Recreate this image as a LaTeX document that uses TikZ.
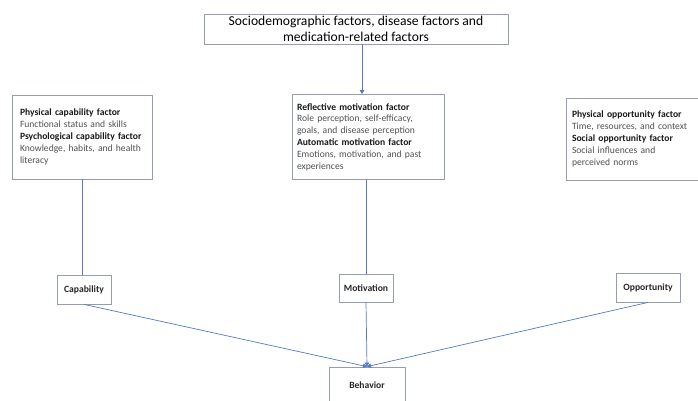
\documentclass[tikz,border=0pt]{standalone}
\usepackage{fontspec}
\setmainfont{Carlito}
\usetikzlibrary{arrows.meta, positioning, calc}
\definecolor{lineblue}{RGB}{84,122,196}
\definecolor{boxgray}{RGB}{150,158,172}
\definecolor{txtgray}{RGB}{80,80,80}

\begin{document}
\begin{tikzpicture}[x=1pt, y=-1pt,
    factorbox/.style={draw=boxgray, line width=0.8pt, align=left, text=txtgray,
                      font=\fontsize{9.6}{11.8}\selectfont, inner ysep=0pt},
    combbox/.style={draw=boxgray, line width=0.8pt, inner sep=0pt,
                    font=\fontsize{9.6}{11}\selectfont\bfseries, text=black!85},
    conn/.style={draw=lineblue, line width=0.7pt},
    arr/.style={conn, -{Triangle[width=4.5pt, length=4pt]}}
    ]
    \useasboundingbox (0,0) rectangle (698,401);

    % top box
    \node[draw=boxgray, line width=0.8pt, align=center, inner sep=0pt,
          minimum width=304pt, minimum height=30pt,
          font=\fontsize{13.6}{16}\selectfont] (top) at (356,29)
        {Sociodemographic factors, disease factors and\\medication-related factors};

    % factor boxes
    \node[factorbox, inner xsep=8pt, text width=124pt, minimum height=84pt] (capf) at (82,137)
        {\textbf{\color{black!90}Physical capability factor}\\
         Functional status and skills\\
         \textbf{\color{black!90}Psychological capability factor}\\
         Knowledge, habits, and health\\
         literacy};
    \node[factorbox, inner xsep=5pt, text width=142pt, minimum height=85pt] (motf) at (368,137)
        {\textbf{\color{black!90}Reflective motivation factor}\\
         Role perception, self-efficacy,\\
         goals, and disease perception\\
         \textbf{\color{black!90}Automatic motivation factor}\\
         Emotions, motivation, and past\\
         experiences};
    \node[factorbox, inner xsep=6pt, text width=126pt, minimum height=82pt] (oppf) at (635,139)
        {\textbf{\color{black!90}Physical opportunity factor}\\
         Time, resources, and context\\
         \textbf{\color{black!90}Social opportunity factor}\\
         Social influences and\\
         perceived norms};

    % COM components
    \node[combbox, minimum width=54pt, minimum height=29pt] (cap) at (84,289.5) {Capability};
    \node[combbox, minimum width=54pt, minimum height=28pt] (mot) at (366,288) {Motivation};
    \node[combbox, minimum width=64pt, minimum height=29pt] (opp) at (648,287.5) {Opportunity};
    \node[combbox, minimum width=76pt, minimum height=36pt] (beh) at (367,385) {Behavior};

    % connectors
    \draw[arr] ([xshift=6pt]top.south) -- ([xshift=6pt]top.south |- motf.north);
    \draw[conn] (capf.south) -- (capf.south |- cap.north);
    \draw[conn] (mot.north |- motf.south) -- (mot.north);
    \draw[arr] (cap.south) -- (beh.north);
    \draw[arr] (mot.south) -- (beh.north);
    \draw[arr] (opp.south) -- (beh.north);
\end{tikzpicture}
\end{document}
